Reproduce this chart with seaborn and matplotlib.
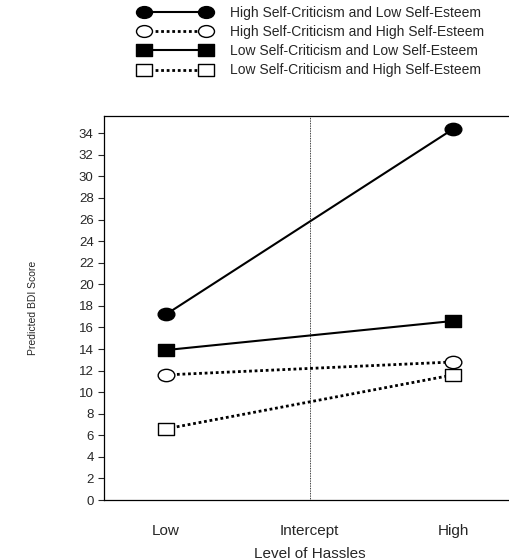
# Predicted BDI score by level of hassles, for four self-criticism / self-esteem groups
import pandas as pd
import seaborn as sns
import matplotlib.pyplot as plt
from matplotlib.lines import Line2D
from matplotlib.path import Path

hassle_codes = [-1, 1]
tick_codes = [-1, 0, 1]
tick_labels = ['Low', 'Intercept', 'High']
groups = ['High Self-Criticism and Low Self-Esteem',
          'High Self-Criticism and High Self-Esteem',
          'Low Self-Criticism and Low Self-Esteem',
          'Low Self-Criticism and High Self-Esteem']
hi_sc_lo_se = [17.2, 34.4]
hi_sc_hi_se = [11.6, 12.8]
lo_sc_lo_se = [13.9, 16.6]
lo_sc_hi_se = [6.6, 11.6]
y_ticks = list(range(0, 35, 2))

# markers in the original are a bit wider than tall
circ = Path.unit_circle()
ellipse = Path(circ.vertices * [1, 0.74], circ.codes)
rect = Path([(-1, -0.74), (1, -0.74), (1, 0.74), (-1, 0.74), (-1, -0.74)], closed=True)

styles = {
    groups[0]: dict(marker=ellipse, mfc='black', ls='-', lw=1.5),
    groups[1]: dict(marker=ellipse, mfc='white', ls=(0, (1, 1)), lw=2),
    groups[2]: dict(marker=rect, mfc='black', ls='-', lw=1.5),
    groups[3]: dict(marker=rect, mfc='white', ls=(0, (1, 1)), lw=2),
}

rows = []
for g, vals in zip(groups, [hi_sc_lo_se, hi_sc_hi_se, lo_sc_lo_se, lo_sc_hi_se]):
    for x, v in zip(hassle_codes, vals):
        rows.append({'group': g, 'hassles': x, 'bdi': v})
df = pd.DataFrame(rows)

sns.set_style('white')
plt.rcParams['font.family'] = ['Liberation Sans', 'DejaVu Sans']

fig = plt.figure(figsize=(5.1, 5.6), dpi=100)
ax = fig.add_axes([0.204, 0.107, 0.806, 0.686])

ax.axvline(0, color='black', lw=0.6, ls=(0, (1, 1)), zorder=1)

handles = []
for g in groups:
    st = styles[g]
    sub = df[df['group'] == g]
    sns.lineplot(data=sub, x='hassles', y='bdi', ax=ax, color='black',
                 linestyle=st['ls'], lw=st['lw'], marker=st['marker'],
                 markersize=12, markerfacecolor=st['mfc'],
                 markeredgecolor='black', markeredgewidth=1, zorder=3)
    handles.append(Line2D([], [], color='black', linestyle=st['ls'], lw=st['lw'],
                          marker=st['marker'], markersize=11.5,
                          markerfacecolor=st['mfc'], markeredgecolor='black'))

ax.set_xlim(-1.43, 1.43)
ax.set_ylim(0, 35.6)
ax.set_yticks(y_ticks)
ax.set_xticks(tick_codes)
ax.set_xticklabels(tick_labels)
ax.tick_params(axis='y', left=True, length=4.5, width=0.8, pad=3, labelsize=9.5)
ax.tick_params(axis='x', bottom=False, pad=13.5, labelsize=11)
ax.spines['right'].set_visible(False)
for s in ['left', 'top', 'bottom']:
    ax.spines[s].set_color('black')
    ax.spines[s].set_linewidth(0.9)

ax.set_xlabel('Level of Hassles', fontsize=11, labelpad=6.5)
ax.set_ylabel('Predicted BDI Score', fontsize=7.5, labelpad=29)

fig.legend(handles, groups, loc='upper left', bbox_to_anchor=(0.274, 0.99),
           frameon=False, fontsize=10, numpoints=2, handlelength=5.06,
           handletextpad=1.42, labelspacing=0.38, borderpad=0, borderaxespad=0)

fig.savefig('out.png', dpi=100)
